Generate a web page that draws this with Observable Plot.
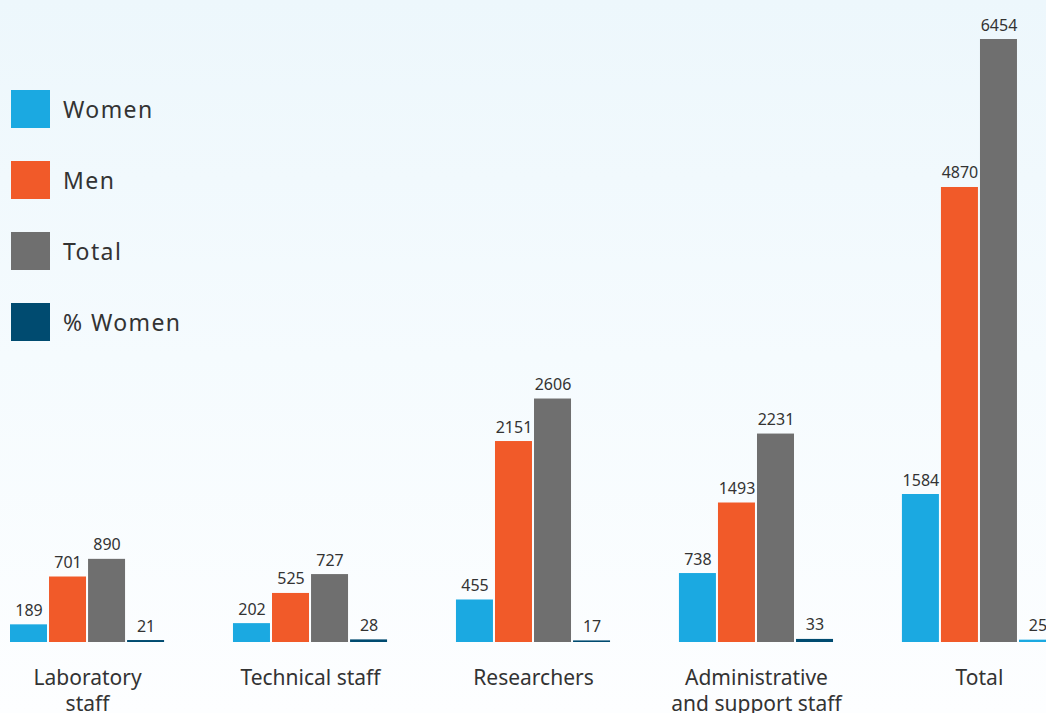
<!DOCTYPE html>
<html><head><meta charset="utf-8">
<script src="https://cdn.jsdelivr.net/npm/d3@7"></script>
<script src="https://cdn.jsdelivr.net/npm/@observablehq/plot@0.6"></script>
<style>
html,body{margin:0;padding:0;overflow:hidden;}
#wrap{position:relative;width:1046px;height:713px;background:linear-gradient(to bottom,#edf7fc 0%,#f5fbfe 50%,#fdfeff 100%);font-family:"Noto Sans",sans-serif;}
#legend{position:absolute;left:11px;top:90px;}
.item{display:flex;align-items:center;height:38px;margin-bottom:33px;}
.sw{width:39px;height:38px;margin-right:13px;}
.lb{font-size:23px;color:#333;letter-spacing:1.4px;}
#chart svg{background:transparent !important;}
</style></head>
<body><div id="wrap"><div id="chart"></div><div id="legend"></div></div>
<script>
const categories = ["Laboratory staff","Technical staff","Researchers","Administrative and support staff","Total"];
const categoryLabels = ["Laboratory\nstaff","Technical staff","Researchers","Administrative\nand support staff","Total"];
const series = ["Women","Men","Total","% Women"];
const women = [189,202,455,738,1584];
const men = [701,525,2151,1493,4870];
const total = [890,727,2606,2231,6454];
const pctWomen = [21,28,17,33,25];
const seriesColors = ["#1ba9e1","#f15a29","#6f6f6f","#004b70"];
const pctWomenColors = ["#004b70","#004b70","#004b70","#004b70","#1ba9e1"];

const values = [women, men, total, pctWomen];
const data = [];
categories.forEach((c, i) => {
  series.forEach((s, j) => {
    data.push({group: c, series: s, value: values[j][i],
      color: j === 3 ? pctWomenColors[i] : seriesColors[j]});
  });
});

const chart = Plot.plot({
  width: 1046,
  height: 713,
  marginTop: 39,
  marginBottom: 71,
  marginLeft: 0,
  marginRight: 0,
  style: {background: "transparent", fontFamily: "Noto Sans, sans-serif", overflow: "visible"},
  fx: {domain: categories, range: [10, 1056], paddingInner: 0.309, paddingOuter: 0, round: false, axis: null},
  x: {domain: series, paddingInner: 0.052, paddingOuter: 0, round: false, axis: null},
  y: {domain: [0, 6454], axis: null},
  marks: [
    Plot.barY(data, {fx: "group", x: "series", y: "value", fill: "color"}),
    Plot.text(data, {fx: "group", x: "series", y: "value", text: d => String(d.value),
      dy: -9, lineAnchor: "bottom", fontSize: 16, fill: "#333", style: "letter-spacing:-0.5px"}),
    Plot.axisFx({anchor: "bottom", tickSize: 0, tickPadding: 24, fontSize: 21, fill: "#333",
      lineHeight: 1.25, label: null, style: "letter-spacing:1.4px",
      tickFormat: d => categoryLabels[categories.indexOf(d)]})
  ]
});
document.getElementById("chart").appendChild(chart);

const legend = document.getElementById("legend");
series.forEach((s, j) => {
  const it = document.createElement("div"); it.className = "item";
  const sw = document.createElement("div"); sw.className = "sw"; sw.style.background = seriesColors[j];
  const lb = document.createElement("div"); lb.className = "lb"; lb.textContent = s;
  it.appendChild(sw); it.appendChild(lb); legend.appendChild(it);
});
</script></body></html>
